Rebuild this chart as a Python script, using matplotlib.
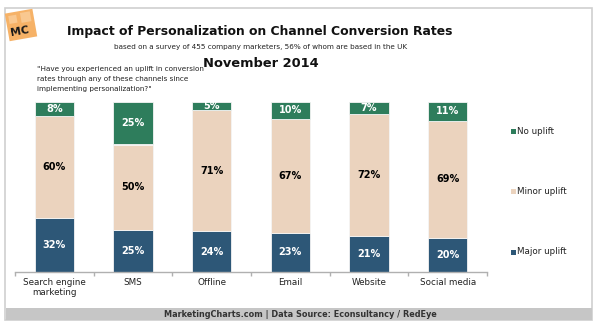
import matplotlib.pyplot as plt
import matplotlib.patches as mpatches
import matplotlib.transforms as mtransforms
import numpy as np

categories = ['Search engine\nmarketing', 'SMS', 'Offline', 'Email', 'Website', 'Social media']
major_uplift = [32, 25, 24, 23, 21, 20]
minor_uplift = [60, 50, 71, 67, 72, 69]
no_uplift = [8, 25, 5, 10, 7, 11]

series_names = ['Major uplift', 'Minor uplift', 'No uplift']
series_colors = ['#2d5777', '#ebd3be', '#2e7d5c']
label_colors = ['white', 'black', 'white']

W, H = 600, 332
fig = plt.figure(figsize=(W / 100, H / 100), dpi=100)
plt.rcParams['font.family'] = ['DejaVu Sans']


def fx(px):
    return px / W


def fy(py):
    return 1 - py / H


# outer frame and footer strip
fig.patches.append(mpatches.Rectangle((fx(5), fy(320)), fx(587), 312 / H,
                                      transform=fig.transFigure, fill=False,
                                      edgecolor='#cfcfcf', lw=1.2))
fig.patches.append(mpatches.Rectangle((fx(6), fy(320)), fx(586), 12 / H,
                                      transform=fig.transFigure,
                                      facecolor='#c6c6c6', edgecolor='none'))
fig.text(0.5, fy(314.5), 'MarketingCharts.com | Data Source: Econsultancy / RedEye',
         ha='center', va='center', fontsize=5.9, fontweight='bold', color='#333333')

# logo: tilted orange tile with MC
pix = mtransforms.Affine2D().scale(1 / W, 1 / H)
rot = (mtransforms.Affine2D().scale(1, -1).translate(0, H)
       .rotate_deg_around(21, H - 25, 10) + pix + fig.transFigure)
fig.patches.append(mpatches.Rectangle((7, 11), 28, 28, transform=rot,
                                      facecolor='#f6b267', edgecolor='none'))
fig.patches.append(mpatches.Rectangle((22, 13), 10, 10, transform=rot,
                                      facecolor='#f9c890', edgecolor='none'))
fig.patches.append(mpatches.Rectangle((10, 14), 8, 8, transform=rot,
                                      facecolor='#f9c890', edgecolor='none'))
fig.text(fx(20), fy(31), 'MC', ha='center', va='center', fontsize=7.8,
         fontweight='bold', color='#1a1a1a', rotation=10)

# titles
fig.text(fx(260), fy(31), 'Impact of Personalization on Channel Conversion Rates',
         ha='center', va='center', fontsize=8.9, fontweight='bold', color='#111111')
fig.text(fx(261), fy(47.5), 'based on a survey of 455 company marketers, 56% of whom are based in the UK',
         ha='center', va='center', fontsize=5.2, color='#222222')
fig.text(fx(261), fy(63.5), 'November 2014', ha='center', va='center',
         fontsize=9.4, fontweight='bold', color='#111111')
fig.text(fx(37), fy(66.5), '"Have you experienced an uplift in conversion\n'
         'rates through any of these channels since\nimplementing personalization?"',
         ha='left', va='top', fontsize=5.2, color='#222222', linespacing=1.7)

# stacked bars
ax = fig.add_axes([fx(15), fy(272), fx(472), 170 / H])
x = np.arange(len(categories))
bottom = np.zeros(len(categories))
for vals, name, col, tcol in zip([major_uplift, minor_uplift, no_uplift],
                                 series_names, series_colors, label_colors):
    vals = np.array(vals)
    ax.bar(x, vals, 0.5, bottom=bottom, color=col, edgecolor='#f4f4f4',
           linewidth=0.6, label=name)
    for xi, b, v in zip(x, bottom, vals):
        ax.text(xi, b + v / 2, f'{v}%', ha='center', va='center',
                fontsize=7, fontweight='bold', color=tcol)
    bottom += vals

ax.set_xlim(-0.5, len(categories) - 0.5)
ax.set_ylim(0, 100)
ax.set_yticks([])
for s in ['top', 'right', 'left']:
    ax.spines[s].set_visible(False)
ax.spines['bottom'].set_color('#b0b0b0')
ax.spines['bottom'].set_linewidth(1)
ax.set_xticks(np.arange(-0.5, len(categories)), minor=False)
ax.set_xticklabels([])
ax.tick_params(axis='x', length=3, color='#b0b0b0', width=1)
ax.set_xticks(x, minor=True)
ax.set_xticklabels(categories, minor=True, fontsize=6.3, color='#222222',
                   linespacing=1.15)
ax.tick_params(axis='x', which='minor', length=0, pad=4)

# legend on the right
leg_y = {'No uplift': 131, 'Minor uplift': 191, 'Major uplift': 252}
for name, col in zip(series_names, series_colors):
    y = leg_y[name]
    fig.patches.append(mpatches.Rectangle((fx(510.5), fy(y + 2.5)), fx(5), 5 / H,
                                          transform=fig.transFigure,
                                          facecolor=col, edgecolor='none'))
    fig.text(fx(517), fy(y), name, ha='left', va='center', fontsize=6.3,
             color='#222222')

fig.savefig('out.png', dpi=100, facecolor='white')
